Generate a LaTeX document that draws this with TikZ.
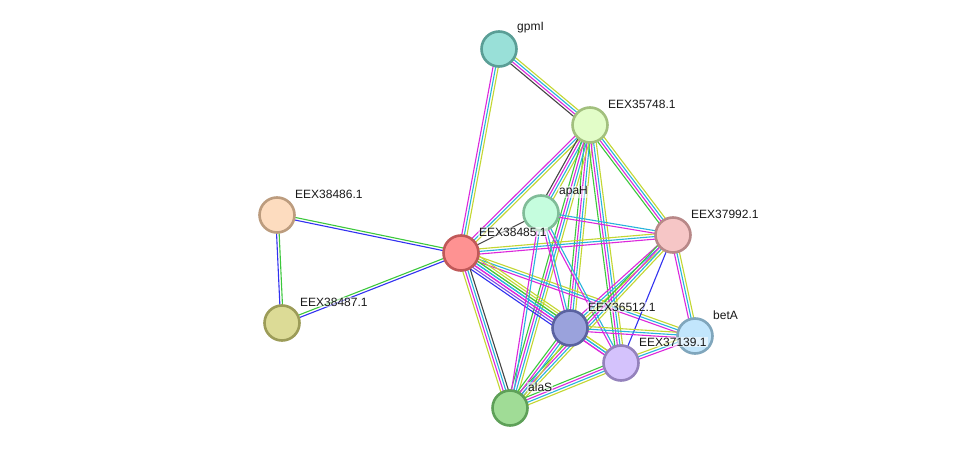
\documentclass[tikz,border=0pt]{standalone}
\usepackage{fontspec}
\setmainfont{Liberation Sans}
\usetikzlibrary{calc,backgrounds}
\pgfdeclarelayer{bottom}
\pgfsetlayers{bottom,background,main}
\definecolor{cgreen}{RGB}{60,200,60}
\definecolor{cblue}{RGB}{50,50,240}
\definecolor{cmag}{RGB}{220,40,220}
\definecolor{ccyan}{RGB}{40,180,220}
\definecolor{cyel}{RGB}{195,215,50}
\definecolor{cblack}{RGB}{70,70,70}
\definecolor{cpurple}{RGB}{120,80,230}
\tikzset{
  prot/.style={circle, minimum size=35pt, inner sep=0pt, line width=2.6pt},
  lbl/.style={anchor=west, inner xsep=1pt, inner ysep=0.5pt, font=\fontsize{12}{14}\selectfont, text=black!90,
    fill=white, fill opacity=0.55, text opacity=1},
  eline/.style={line width=1.1pt}
}
\newcommand{\medge}[4]{%
  \foreach \cc [count=\ii] in {#4} {%
    \pgfmathsetmacro{\oo}{(\ii-(#3+1)/2)*2.6}%
    \draw[eline, draw=\cc] ($(#1)!\oo pt!90:(#2)$) -- ($(#2)!\oo pt!-90:(#1)$);
  }%
}
\newcommand{\plabel}[3]{%
  \node[lbl] (#1) at ([shift={(17,-21)}]#2.center) {#3};
}
\begin{document}
\begin{tikzpicture}[x=1pt,y=-1pt]
\useasboundingbox (0,0) rectangle (976,454);
\begin{pgfonlayer}{bottom}
\fill[white] (0,0) rectangle (976,454);
\end{pgfonlayer}
% nodes
\node[prot, fill={rgb,255:red,153;green,224;blue,216}, draw={rgb,255:red,90;green,158;blue,150}] (gpmI) at (499,49) {};
\node[prot, fill={rgb,255:red,226;green,253;blue,200}, draw={rgb,255:red,162;green,192;blue,126}] (n35748) at (590,125) {};
\node[prot, fill={rgb,255:red,253;green,220;blue,191}, draw={rgb,255:red,188;green,156;blue,126}] (n38486) at (277,215) {};
\node[prot, fill={rgb,255:red,254;green,146;blue,146}, draw={rgb,255:red,192;green,88;blue,88}] (n38485) at (461,253) {};
\node[prot, fill={rgb,255:red,197;green,253;blue,222}, draw={rgb,255:red,128;green,188;blue,152}] (apaH) at (541,213) {};
\node[prot, fill={rgb,255:red,246;green,198;blue,198}, draw={rgb,255:red,184;green,136;blue,136}] (n37992) at (673,235) {};
\node[prot, fill={rgb,255:red,220;green,219;blue,150}, draw={rgb,255:red,156;green,156;blue,88}] (n38487) at (282,323) {};
\node[prot, fill={rgb,255:red,154;green,162;blue,220}, draw={rgb,255:red,90;green,98;blue,160}] (n36512) at (570,328) {};
\node[prot, fill={rgb,255:red,194;green,230;blue,252}, draw={rgb,255:red,128;green,166;blue,188}] (betA) at (695,336) {};
\node[prot, fill={rgb,255:red,212;green,194;blue,252}, draw={rgb,255:red,148;green,130;blue,188}] (n37139) at (621,363) {};
\node[prot, fill={rgb,255:red,160;green,220;blue,150}, draw={rgb,255:red,94;green,160;blue,88}] (alaS) at (510,408) {};
% labels
\plabel{l1}{gpmI}{gpmI}
\plabel{l2}{n35748}{EEX35748.1}
\plabel{l3}{n38486}{EEX38486.1}
\plabel{l4}{n38485}{EEX38485.1}
\plabel{l5}{apaH}{apaH}
\plabel{l6}{n37992}{EEX37992.1}
\plabel{l7}{n38487}{EEX38487.1}
\plabel{l8}{n36512}{EEX36512.1}
\plabel{l9}{betA}{betA}
\plabel{l10}{n37139}{EEX37139.1}
\plabel{l11}{alaS}{alaS}
% edges
\begin{pgfonlayer}{background}
\medge{gpmI}{n35748}{4}{cblack,cmag,ccyan,cyel}
\medge{gpmI}{n38485}{3}{cmag,ccyan,cyel}
\medge{n35748}{n38485}{3}{cmag,ccyan,cyel}
\medge{n35748}{apaH}{4}{cblack,cmag,ccyan,cyel}
\medge{n35748}{n37992}{4}{cgreen,cmag,ccyan,cyel}
\medge{n35748}{n36512}{4}{cgreen,cmag,ccyan,cyel}
\medge{n35748}{n37139}{4}{cgreen,cmag,ccyan,cyel}
\medge{n35748}{alaS}{4}{cgreen,cmag,ccyan,cyel}
\medge{n38486}{n38485}{2}{cblue,cgreen}
\medge{n38486}{n38487}{2}{cblue,cgreen}
\medge{n38487}{n38485}{2}{cblue,cgreen}
\medge{n38485}{apaH}{1}{cblack}
\medge{n38485}{n37992}{3}{cmag,ccyan,cyel}
\medge{n38485}{betA}{3}{cmag,ccyan,cyel}
\medge{n38485}{n37139}{3}{cmag,ccyan,cyel}
\medge{n38485}{n36512}{7}{cblue,cpurple,cmag,ccyan,cgreen,cyel,cyel}
\medge{n38485}{alaS}{4}{cyel,cmag,ccyan,cblack}
\medge{apaH}{n37992}{2}{cmag,ccyan}
\medge{apaH}{n36512}{2}{cmag,ccyan}
\medge{apaH}{n37139}{2}{cmag,ccyan}
\medge{apaH}{alaS}{2}{cmag,ccyan}
\medge{n37992}{n36512}{3}{cmag,ccyan,cyel}
\medge{n37992}{alaS}{4}{cgreen,cmag,ccyan,cyel}
\medge{n37992}{n37139}{1}{cblue}
\medge{n37992}{betA}{3}{cmag,ccyan,cyel}
\medge{n36512}{betA}{3}{cmag,ccyan,cyel}
\medge{n36512}{n37139}{3}{cmag,ccyan,cyel}
\medge{n36512}{alaS}{4}{cgreen,cmag,ccyan,cyel}
\medge{n37139}{alaS}{4}{cgreen,cmag,ccyan,cyel}
\medge{n37139}{betA}{3}{cmag,ccyan,cyel}
\end{pgfonlayer}
\end{tikzpicture}
\end{document}
